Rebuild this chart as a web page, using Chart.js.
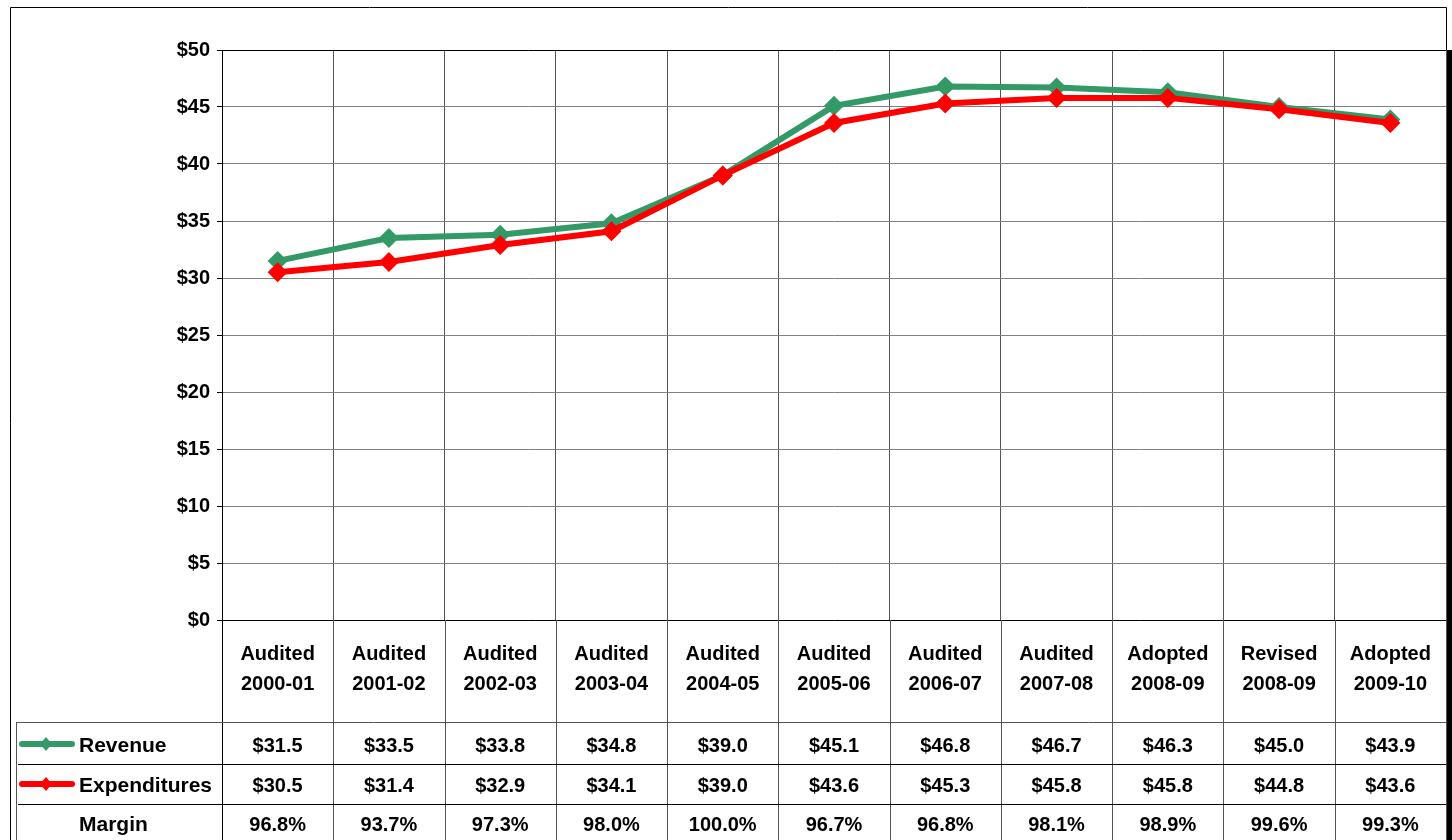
<!DOCTYPE html>
<html><head><meta charset="utf-8">
<script src="https://cdn.jsdelivr.net/npm/chart.js@4"></script>
<style>html,body{margin:0;padding:0;background:#fff;overflow:hidden}</style>
</head><body>
<canvas id="c" width="1452" height="840"></canvas>
<script>
const categories = [
  ['Audited','2000-01'],['Audited','2001-02'],['Audited','2002-03'],['Audited','2003-04'],
  ['Audited','2004-05'],['Audited','2005-06'],['Audited','2006-07'],['Audited','2007-08'],
  ['Adopted','2008-09'],['Revised','2008-09'],['Adopted','2009-10']
];
const revenue = [31.5, 33.5, 33.8, 34.8, 39.0, 45.1, 46.8, 46.7, 46.3, 45.0, 43.9];
const expenditures = [30.5, 31.4, 32.9, 34.1, 39.0, 43.6, 45.3, 45.8, 45.8, 44.8, 43.6];
const margin = ['96.8%','93.7%','97.3%','98.0%','100.0%','96.7%','96.8%','98.1%','98.9%','99.6%','99.3%'];
const yMin = 0, yMax = 50, yStep = 5;

const GREEN = '#339966', RED = '#FF0000';
const FONT = '"Liberation Sans", Arial, sans-serif';

const tablePlugin = {
  id: 'tablePlugin',
  afterDraw(chart) {
    const ctx = chart.ctx;
    const xs = chart.scales.x;
    const n = categories.length;
    const L = xs.left, R = xs.right, w = (R - L) / n;
    ctx.save();
    // outer border
    ctx.strokeStyle = '#000'; ctx.lineWidth = 1;
    ctx.beginPath();
    ctx.moveTo(10.5, 840); ctx.lineTo(10.5, 7.5); ctx.lineTo(1446.5, 7.5); ctx.lineTo(1446.5, 50);
    ctx.stroke();
    ctx.fillStyle = '#000';
    ctx.fillRect(1447, 50, 5, 790);
    // vertical column lines below plot
    for (let i = 0; i <= n; i++) {
      const x = Math.round(L + i * w) + 0.5;
      ctx.strokeStyle = (i === 0) ? '#000' : '#555';
      ctx.beginPath(); ctx.moveTo(x, chart.chartArea.bottom); ctx.lineTo(x, 840); ctx.stroke();
    }
    // table lines
    ctx.strokeStyle = '#555';
    ctx.beginPath(); ctx.moveTo(16, 722.5); ctx.lineTo(R, 722.5); ctx.stroke();
    ctx.strokeStyle = '#000';
    ctx.beginPath(); ctx.moveTo(18, 764.5); ctx.lineTo(R, 764.5); ctx.stroke();
    ctx.beginPath(); ctx.moveTo(18, 804.5); ctx.lineTo(R, 804.5); ctx.stroke();
    ctx.strokeStyle = '#555';
    ctx.beginPath(); ctx.moveTo(16.5, 722); ctx.lineTo(16.5, 840); ctx.stroke();

    // legend keys
    const key = (y, color) => {
      ctx.strokeStyle = color; ctx.lineWidth = 6; ctx.lineCap = 'round';
      ctx.beginPath(); ctx.moveTo(22, y); ctx.lineTo(72, y); ctx.stroke();
      ctx.fillStyle = color;
      ctx.beginPath(); ctx.moveTo(46, y - 7); ctx.lineTo(52, y); ctx.lineTo(46, y + 7); ctx.lineTo(40, y); ctx.closePath(); ctx.fill();
    };
    key(744, GREEN); key(784, RED);

    // text
    ctx.fillStyle = '#000';
    ctx.font = 'bold 21px ' + FONT;
    ctx.textBaseline = 'middle';
    ctx.textAlign = 'left';
    ctx.fillText('Revenue', 79, 746);
    ctx.fillText('Expenditures', 79, 786);
    ctx.fillText('Margin', 79, 825);
    ctx.font = 'bold 20px ' + FONT;
    ctx.textAlign = 'center';
    for (let i = 0; i < n; i++) {
      const cx = xs.getPixelForValue(i);
      ctx.fillText('$' + revenue[i].toFixed(1), cx, 746);
      ctx.fillText('$' + expenditures[i].toFixed(1), cx, 786);
      ctx.fillText(margin[i], cx, 825);
    }
    ctx.restore();
  }
};

new Chart(document.getElementById('c'), {
  type: 'line',
  data: {
    labels: categories,
    datasets: [
      { label: 'Revenue', data: revenue, borderColor: GREEN, backgroundColor: GREEN,
        borderWidth: 6, pointStyle: 'rectRot', pointRadius: 10, pointBorderWidth: 0, tension: 0, order: 1 },
      { label: 'Expenditures', data: expenditures, borderColor: RED, backgroundColor: RED,
        borderWidth: 6, pointStyle: 'rectRot', pointRadius: 10, pointBorderWidth: 0, tension: 0, order: 0 }
    ]
  },
  options: {
    responsive: false,
    animation: false,
    layout: { autoPadding: false, padding: { left: 0, right: 6, top: 50, bottom: 0 } },
    plugins: { legend: { display: false }, tooltip: { enabled: false }, title: { display: false } },
    scales: {
      x: {
        offset: true,
        grid: { offset: true, color: '#555', drawTicks: false, lineWidth: 1 },
        border: { color: '#000', width: 1 },
        ticks: { color: '#000', padding: 19, maxRotation: 0, autoSkip: false,
          font: { family: FONT, size: 20, weight: 'bold', lineHeight: 1.5 } },
        afterFit(s) { s.height = 220; s.paddingLeft = 0; s.paddingRight = 0; }
      },
      y: {
        min: yMin, max: yMax,
        grid: { color: (c) => c.tick && c.tick.value === yMax ? '#000' : '#808080', tickLength: 5, tickColor: '#000' },
        border: { color: '#000', width: 1 },
        ticks: { stepSize: yStep, color: '#000', padding: 7,
          font: { family: FONT, size: 20, weight: 'bold' },
          callback: (v) => '$' + v },
        afterFit(s) { s.width = 222; }
      }
    }
  },
  plugins: [tablePlugin]
});
</script>
</body></html>
